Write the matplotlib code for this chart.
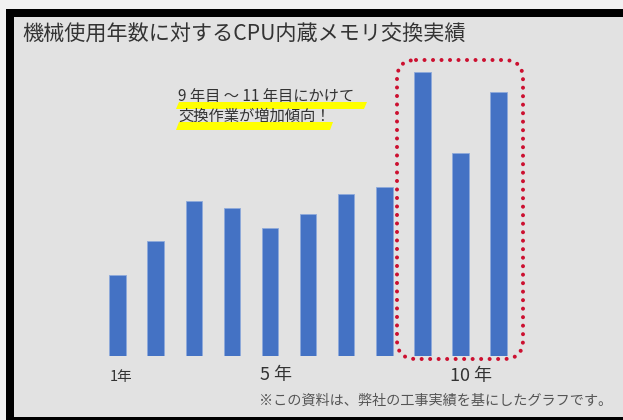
import numpy as np
import matplotlib
matplotlib.use('Agg')
import matplotlib.pyplot as plt
from matplotlib.patches import FancyBboxPatch, Polygon, Rectangle

plt.rcParams['font.family'] = ['Noto Sans CJK JP', 'DejaVu Sans']

# 機械使用年数 (1..11 年) ごとの交換件数 (相対値, 図から読み取り)
years = np.arange(1, 12)
counts = [81, 115, 155, 148, 128, 142, 162, 169, 284, 203, 264]
tick_years = [1, 5, 10]
tick_labels = ['1年', '5 年', '10 年']

title = '機械使用年数に対するCPU内蔵メモリ交換実績'
note1 = '9 年目 ～ 11 年目にかけて'
note2 = '交換作業が増加傾向！'
footnote = '※この資料は、弊社の工事実績を基にしたグラフです。'

W, H = 623, 420
fig = plt.figure(figsize=(W / 100, H / 100), dpi=100)
fig.patch.set_facecolor('#f1f1f1')

# background / frame layer in pixel units
bg = fig.add_axes([0, 0, 1, 1], zorder=0)
bg.set_xlim(0, W)
bg.set_ylim(H, 0)
bg.axis('off')
bg.add_patch(Rectangle((6, 9), W - 6, H - 9, facecolor='#e2e2e2', edgecolor='none'))
bg.add_patch(Rectangle((6, 9), W - 6, 8, facecolor='black', edgecolor='none'))
bg.add_patch(Rectangle((6, 9), 8, H - 9, facecolor='black', edgecolor='none'))
bg.add_patch(Rectangle((6, 417), W - 6, 3, facecolor='black', edgecolor='none'))

# bar chart
step = 38.08
left = 117.7 - step / 2
ax = fig.add_axes([left / W, 64 / H, 11 * step / W, 300 / H], zorder=1)
ax.patch.set_alpha(0)
ax.bar(years, counts, width=0.435, color='#4472c4', edgecolor='#8eaadb', linewidth=0.6)
ax.set_xlim(0.5, 11.5)
ax.set_ylim(0, 300)
ax.axis('off')

# overlay layer in pixel units
ov = fig.add_axes([0, 0, 1, 1], zorder=2)
ov.set_xlim(0, W)
ov.set_ylim(H, 0)
ov.axis('off')
ov.patch.set_alpha(0)

ov.text(22, 35, title, fontsize=15.2, color='#333333', va='center', ha='left')

# yellow marker highlights
ov.add_patch(Polygon([(176, 109), (179, 102), (367, 102), (364, 109)],
                     closed=True, facecolor='#ffff00', edgecolor='none'))
ov.add_patch(Polygon([(176, 130), (179, 122), (333, 122), (330, 130)],
                     closed=True, facecolor='#ffff00', edgecolor='none'))
ov.text(178, 97, note1, fontsize=11, color='#333333', va='center', ha='left')
ov.text(178, 116, note2, fontsize=11, color='#333333', va='center', ha='left')

# dotted rounded box around 9-11
box = FancyBboxPatch((397, 60), 126, 299, boxstyle='round,pad=0,rounding_size=19',
                     facecolor='none', edgecolor='#cc1030', linewidth=2.9,
                     linestyle=(0, (0.01, 2.1)), capstyle='round')
ov.add_patch(box)

# x labels
xpos = {1: 121, 5: 276, 10: 471}
ypos = {1: 377, 5: 375, 10: 376}
fsize = {1: 10.5, 5: 13, 10: 13}
for yr, lab in zip(tick_years, tick_labels):
    ov.text(xpos[yr], ypos[yr], lab, fontsize=fsize[yr], color='#333333',
            ha='center', va='center')

ov.text(612, 401, footnote, fontsize=10.2, color='#555555', ha='right', va='center')

fig.savefig('out.png', dpi=100, facecolor=fig.get_facecolor())
